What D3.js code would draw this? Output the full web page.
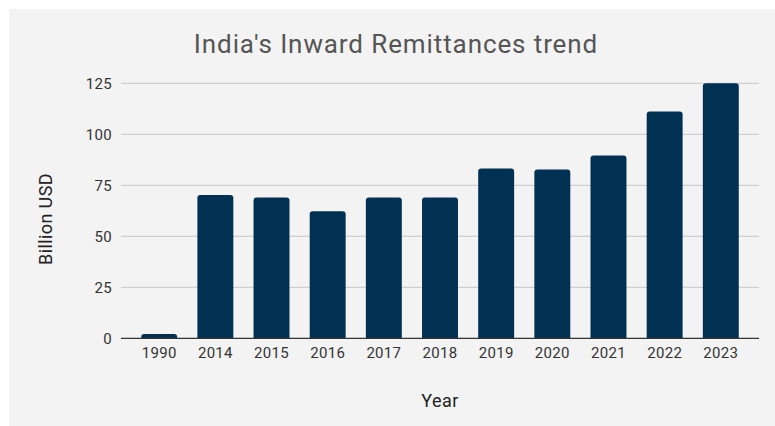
<!DOCTYPE html>
<html>
<head>
<meta charset="utf-8">
<script src="https://cdn.jsdelivr.net/npm/d3@7"></script>
<style>
  body { margin: 0; background: #ffffff; }
  svg { display: block; font-family: Roboto, sans-serif; }
</style>
</head>
<body>
<div id="chart"></div>
<script>
// Setting height and width of the page
var w = 775;
var h = 426;

// Chart data
var years = ['1990', '2014', '2015', '2016', '2017', '2018', '2019', '2020', '2021', '2022', '2023'];
var remittances = [2.1, 70.2, 69.0, 62.3, 69.0, 69.0, 83.2, 82.8, 89.6, 111.2, 125];
var yTicks = [0, 25, 50, 75, 100, 125];

var margin = {top: 83.3, right: 16, bottom: 87.7, left: 121};

var svg = d3.select('#chart').append('svg')
			.attr('width', w)
			.attr('height', h);

// gray panel
svg.append('rect')
	.attr('x', 9)
	.attr('y', 9)
	.attr('width', w - 9)
	.attr('height', h - 9)
	.attr('fill', '#f3f3f3');

var x = d3.scaleBand()
			.domain(years)
			.range([margin.left, w - margin.right])
			.paddingInner(0.36)
			.paddingOuter(0.36);

var y = d3.scaleLinear()
			.domain([0, 125])
			.range([h - margin.bottom, margin.top]);

// gridlines
svg.append('g')
	.selectAll('line')
	.data(yTicks.slice(1))
	.enter().append('line')
	.attr('x1', margin.left)
	.attr('x2', w - margin.right)
	.attr('y1', function(d) { return y(d); })
	.attr('y2', function(d) { return y(d); })
	.attr('stroke', '#c6c6c6')
	.attr('stroke-width', 1);

// y axis labels
var yAxis = d3.axisLeft(y).tickValues(yTicks).tickSize(0).tickPadding(9);
svg.append('g')
	.attr('transform', 'translate(' + margin.left + ',0)')
	.call(yAxis)
	.call(function(g) { g.select('.domain').remove(); })
	.selectAll('text')
	.attr('font-size', 15)
	.attr('letter-spacing', 0.3)
	.attr('font-family', 'Roboto, sans-serif')
	.attr('fill', '#333');

// bars with rounded tops
var r = 3;
function barPath(d, i) {
	var x0 = x(years[i]), bw = x.bandwidth();
	var top = y(d), base = y(0);
	var rr = Math.min(r, (base - top));
	return 'M' + x0 + ',' + base +
		'V' + (top + rr) +
		'Q' + x0 + ',' + top + ' ' + (x0 + rr) + ',' + top +
		'H' + (x0 + bw - rr) +
		'Q' + (x0 + bw) + ',' + top + ' ' + (x0 + bw) + ',' + (top + rr) +
		'V' + base + 'Z';
}

svg.append('g')
	.selectAll('path')
	.data(remittances)
	.enter().append('path')
	.attr('d', barPath)
	.attr('fill', '#003052');

// x axis
var xAxis = d3.axisBottom(x).tickSize(0).tickPadding(9);
svg.append('g')
	.attr('transform', 'translate(0,' + y(0) + ')')
	.call(xAxis)
	.call(function(g) {
		g.select('.domain').remove();
	})
	.selectAll('text')
	.attr('font-size', 15)
	.attr('letter-spacing', 0.3)
	.attr('font-family', 'Roboto, sans-serif')
	.attr('fill', '#333');

// baseline
svg.append('line')
	.attr('x1', margin.left)
	.attr('x2', w - margin.right)
	.attr('y1', y(0))
	.attr('y2', y(0))
	.attr('stroke', '#333')
	.attr('stroke-width', 1.2);

// title
svg.append('text')
	.attr('x', 396)
	.attr('y', 53)
	.attr('text-anchor', 'middle')
	.attr('font-size', 26)
	.attr('letter-spacing', 0.9)
	.attr('fill', '#555')
	.text("India's Inward Remittances trend");

// axis titles
svg.append('text')
	.attr('x', (margin.left + w - margin.right) / 2)
	.attr('y', 407)
	.attr('text-anchor', 'middle')
	.attr('font-size', 18)
	.attr('letter-spacing', 0.5)
	.attr('fill', '#222')
	.text('Year');

svg.append('text')
	.attr('transform', 'translate(51.5,219) rotate(-90)')
	.attr('text-anchor', 'middle')
	.attr('font-size', 18)
	.attr('letter-spacing', 0.4)
	.attr('fill', '#222')
	.text('Billion USD');
</script>
</body>
</html>
